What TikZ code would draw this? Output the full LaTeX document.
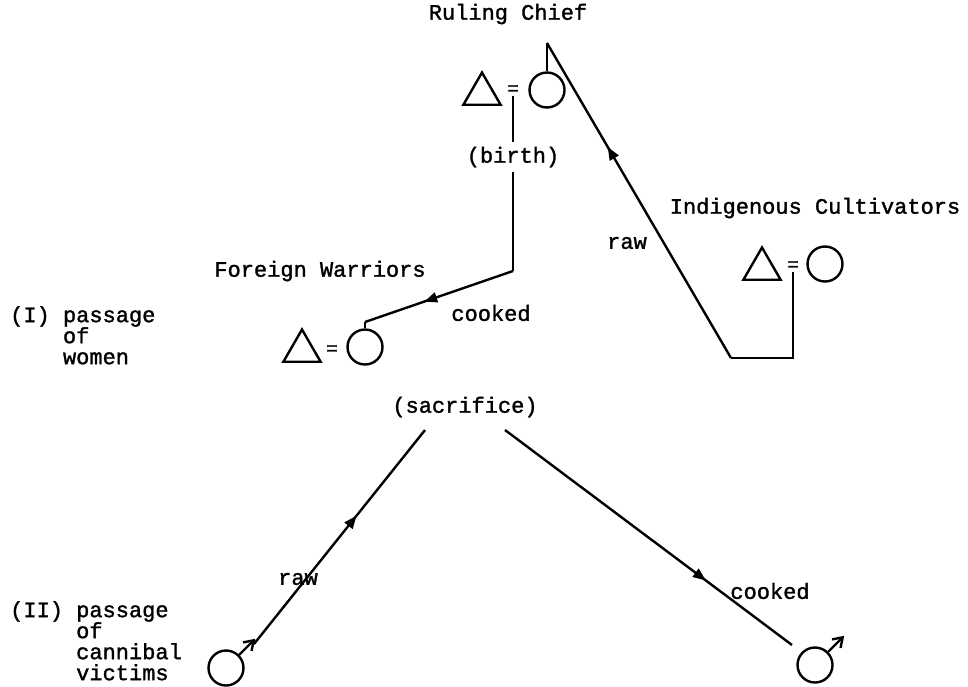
\documentclass[tikz,border=0pt]{standalone}
\usepackage{fontspec}
\setmainfont{Liberation Mono}[FakeBold=1.4]
\usetikzlibrary{shapes.geometric,arrows.meta,decorations.markings}
\begin{document}
\begin{tikzpicture}[x=1pt,y=-1pt,
  line width=2.4pt,
  lbl/.style={font=\fontsize{22}{21}\selectfont, inner sep=0pt},
  kin/.style={draw, circle, minimum size=35pt, inner sep=0pt, line width=2.4pt},
  tri/.style={draw, regular polygon, regular polygon sides=3, minimum size=43pt, inner sep=0pt, line width=2.4pt},
  eqs/.style={font=\fontsize{19}{19}\selectfont, inner sep=0pt},
  midarrow/.style={postaction={decorate}, decoration={markings, mark=at position #1 with {\arrow{Triangle[length=13pt,width=10pt]}}}},
  male/.style={-{Straight Barb[length=9pt,width=12pt]}, line width=2.4pt},
]
\useasboundingbox (0,0) rectangle (968,686);

% top pair (Ruling Chief)
\node[tri] (t1) at (482,94) {};
\node[eqs] (e1) at (513,90) {=};
\node[kin] (c1) at (547,90) {};
% right pair (Indigenous Cultivators)
\node[tri] (t2) at (762,269) {};
\node[eqs] (e2) at (793,266) {=};
\node[kin] (c2) at (825,264) {};
% lower-left pair (Foreign Warriors)
\node[tri] (t3) at (302,351) {};
\node[eqs] (e3) at (332,350) {=};
\node[kin] (c3) at (365,347) {};

% labels
\node[lbl] (rc) at (508,14) {Ruling Chief};
\node[lbl] (ic) at (815,208) {Indigenous Cultivators};
\node[lbl] (fw) at (320,271) {Foreign Warriors};
\node[lbl, inner ysep=4pt] (birth) at (513,157) {(birth)};
\node[lbl] (ck1) at (491,313) {cooked};
\node[lbl] (rw1) at (627,243) {raw};
\node[lbl] (sac) at (465,407) {(sacrifice)};
\node[lbl] (rw2) at (298,579) {raw};
\node[lbl] (ck2) at (770,591) {cooked};
\node[lbl, align=left, anchor=north west] (pI) at (9,305) {(I)~passage\\\hphantom{(I)~}of\\\hphantom{(I)~}women};
\node[lbl, align=left, anchor=north west] (pII) at (9,600) {(II)~passage\\\hphantom{(II)~}of\\\hphantom{(II)~}cannibal\\\hphantom{(II)~}victims};

% upper connectors
\coordinate (k1) at (547,43);
\coordinate (k2) at (731,358);
\coordinate (k3) at (793,358);
\draw (c1.north) -- (k1);
\draw[midarrow=0.67] (k2) -- (k1);
\draw (k2) -- (k3) -- (e2.south);

\coordinate (k4) at (513,271);
\coordinate (k5) at (365,322);
\draw (e1.south) -- (birth.north);
\draw (birth.south) -- (k4);
\draw[midarrow=0.6] (k4) -- (k5);
\draw (k5) -- (c3.north);

% lower part: cannibal victims
\node[kin] (m1) at (226,668) {};
\node[kin] (m2) at (815,665) {};
\draw[male] (m1.45) -- ++(16,-16);
\draw[male] (m2.45) -- ++(16,-16);
\coordinate (p1) at (254,644);
\coordinate (p2) at (425,430);
\coordinate (p3) at (505,430);
\coordinate (p4) at (792,645);
\draw[midarrow=0.6] (p1) -- (p2);
\draw[midarrow=0.7] (p3) -- (p4);
\end{tikzpicture}
\end{document}
